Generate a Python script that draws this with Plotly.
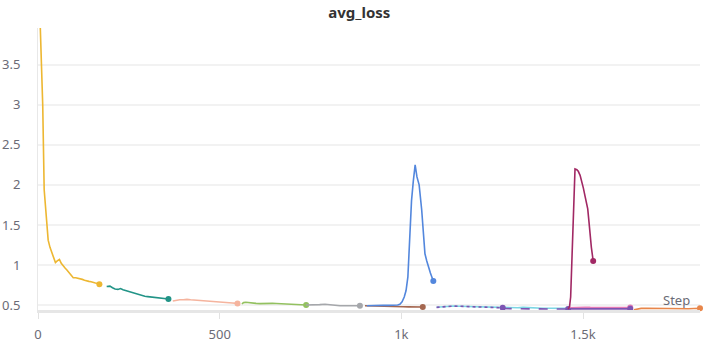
import plotly.graph_objects as go

# ---- data (step, avg_loss) per run ----
yellow_x = [4, 8, 13, 17, 21, 25, 28, 33, 38, 43, 48, 53, 59, 64, 70, 75, 79, 85, 91, 97, 104, 110, 116, 122, 128, 134, 140, 146, 152, 158, 164, 169]
yellow_y = [4.3, 3.6, 3.0, 1.94, 1.7, 1.45, 1.31, 1.22, 1.15, 1.09, 1.03, 1.05, 1.07, 1.02, 0.98, 0.96, 0.94, 0.91, 0.87, 0.84, 0.84, 0.835, 0.83, 0.82, 0.81, 0.80, 0.795, 0.79, 0.78, 0.775, 0.77, 0.76]

teal_x = [189, 198, 205, 212, 220, 227, 234, 241, 248, 255, 262, 270, 278, 286, 294, 302, 310, 318, 326, 334, 342, 350, 359]
teal_y = [0.73, 0.735, 0.715, 0.70, 0.695, 0.705, 0.69, 0.68, 0.67, 0.66, 0.65, 0.635, 0.625, 0.615, 0.61, 0.605, 0.60, 0.595, 0.59, 0.585, 0.58, 0.578, 0.575]

peach_x = [371, 380, 390, 400, 410, 420, 432, 445, 460, 475, 490, 505, 520, 535, 549]
peach_y = [0.55, 0.56, 0.565, 0.565, 0.57, 0.565, 0.56, 0.555, 0.55, 0.545, 0.535, 0.53, 0.525, 0.525, 0.52]

green_x = [561, 566, 572, 580, 590, 600, 611, 622, 634, 645, 656, 668, 680, 692, 703, 715, 727, 738]
green_y = [0.515, 0.53, 0.535, 0.528, 0.522, 0.52, 0.517, 0.52, 0.521, 0.52, 0.518, 0.515, 0.51, 0.507, 0.505, 0.503, 0.502, 0.5]

gray_x = [738, 750, 762, 775, 790, 803, 816, 831, 845, 858, 872, 886]
gray_y = [0.5, 0.5, 0.502, 0.505, 0.51, 0.503, 0.495, 0.49, 0.49, 0.49, 0.489, 0.49]

blue_x = [905, 920, 935, 950, 965, 980, 990, 996, 1002, 1008, 1013, 1018, 1022, 1025, 1028, 1033, 1038, 1043, 1049, 1056, 1061, 1065, 1070, 1074, 1080, 1088]
blue_y = [0.49, 0.495, 0.5, 0.497, 0.495, 0.495, 0.5, 0.51, 0.54, 0.6, 0.68, 0.85, 1.2, 1.55, 1.8, 2.05, 2.25, 2.1, 2.0, 1.69, 1.35, 1.14, 1.05, 0.98, 0.9, 0.80]

brown_x = [900, 915, 930, 945, 960, 975, 990, 1005, 1020, 1035, 1048, 1059]
brown_y = [0.49, 0.487, 0.488, 0.485, 0.483, 0.482, 0.48, 0.478, 0.477, 0.476, 0.477, 0.475]

cyan_x = [1097, 1110, 1125, 1143, 1160, 1180, 1200, 1220, 1240, 1260, 1279, 1300, 1320, 1335, 1350, 1370, 1390, 1410, 1430, 1445, 1459]
cyan_y = [0.471, 0.478, 0.485, 0.488, 0.485, 0.482, 0.478, 0.475, 0.472, 0.468, 0.466, 0.462, 0.465, 0.47, 0.465, 0.462, 0.46, 0.46, 0.46, 0.46, 0.458]

purple_dot_x = [1097, 1110, 1125, 1143, 1160, 1180, 1200, 1220, 1240, 1260, 1279]
purple_dot_y = [0.47, 0.477, 0.484, 0.487, 0.484, 0.481, 0.477, 0.474, 0.471, 0.467, 0.465]

purple_dash_x = [1279, 1300, 1320, 1340, 1360, 1380, 1400, 1420, 1440, 1459]
purple_dash_y = [0.456, 0.453, 0.452, 0.452, 0.451, 0.451, 0.45, 0.45, 0.45, 0.449]

purple_x = [1459, 1480, 1500, 1520, 1540, 1560, 1580, 1600, 1630]
purple_y = [0.452, 0.455, 0.453, 0.452, 0.452, 0.451, 0.452, 0.451, 0.452]

pink_x = [1459, 1475, 1490, 1505, 1520, 1540, 1560, 1580, 1600, 1615, 1630]
pink_y = [0.465, 0.47, 0.468, 0.472, 0.47, 0.468, 0.468, 0.466, 0.466, 0.467, 0.468]

magenta_x = [1459, 1463, 1466, 1470, 1473, 1476, 1478, 1483, 1487, 1492, 1496, 1501, 1506, 1510, 1513, 1516, 1519, 1523, 1528]
magenta_y = [0.45, 0.48, 0.6, 1.1, 1.45, 1.9, 2.2, 2.19, 2.17, 2.12, 2.06, 1.96, 1.85, 1.76, 1.7, 1.56, 1.4, 1.22, 1.05]

orange_x = [1640, 1650, 1660, 1675, 1690, 1710, 1730, 1750, 1770, 1790, 1805, 1822]
orange_y = [0.44, 0.45, 0.458, 0.46, 0.458, 0.456, 0.455, 0.456, 0.455, 0.454, 0.456, 0.458]

x_tickvals = [0, 500, 1000, 1500]
x_ticktext = ["0", "500", "1k", "1.5k"]
y_tickvals = [0.5, 1, 1.5, 2, 2.5, 3, 3.5]
y_ticktext = ["0.5", "1", "1.5", "2", "2.5", "3", "3.5"]

FONT = "'Source Sans Pro', 'Noto Sans', sans-serif"

fig = go.Figure()


def add_run(xs, ys, color, dash="solid", end_marker=True, width=1.6):
    fig.add_trace(go.Scatter(x=xs, y=ys, mode="lines",
                             line=dict(color=color, width=width, dash=dash),
                             showlegend=False, hoverinfo="skip", cliponaxis=True))
    if end_marker:
        fig.add_trace(go.Scatter(x=[xs[-1]], y=[ys[-1]], mode="markers",
                                 marker=dict(color=color, size=6),
                                 showlegend=False, hoverinfo="skip", cliponaxis=False))


add_run(yellow_x, yellow_y, "#EDB732")
add_run(teal_x, teal_y, "#229487")
add_run(peach_x, peach_y, "#F5B49E")
add_run(green_x, green_y, "#93C160")
add_run(gray_x, gray_y, "#A5A7AB")
add_run(brown_x, brown_y, "#A46750")
add_run(blue_x, blue_y, "#5387DD")
add_run(cyan_x, cyan_y, "#7CD6E4", end_marker=False)
add_run(purple_dot_x, purple_dot_y, "#7D54B2", dash="dot")
add_run(purple_dash_x, purple_dash_y, "#7D54B2", dash="dash")
add_run(pink_x, pink_y, "#E37BB6")
add_run(purple_x, purple_y, "#7D54B2")
add_run(magenta_x, magenta_y, "#A12864")
add_run(orange_x, orange_y, "#E8864A")

fig.update_layout(
    width=720, height=342,
    margin=dict(l=38, r=20, t=28, b=32, autoexpand=False),
    paper_bgcolor="white", plot_bgcolor="white",
    font=dict(family=FONT, size=13, color="#6b6b76"),
    title=dict(text="<b>avg_loss</b>", x=0.499, xanchor="center", y=0.962, yanchor="middle",
               font=dict(family=FONT, size=15, color="#333333")),
    xaxis=dict(range=[0, 1822], tickvals=x_tickvals, ticktext=x_ticktext,
               showgrid=False, zeroline=False, automargin=False,
               showline=True, linecolor="#e6e6e6", linewidth=3,
               ticks="outside", ticklen=6, tickcolor="#e2e2e2", tickwidth=1,
               ticklabelstandoff=4,
               tickfont=dict(size=13, color="#6b6b76")),
    yaxis=dict(range=[0.4375, 3.96], tickvals=y_tickvals, ticktext=y_ticktext,
               showgrid=True, gridcolor="#f2f2f2", gridwidth=2, zeroline=False,
               automargin=False,
               showline=True, linecolor="#e8e8e8", linewidth=1,
               ticks="", ticklabelstandoff=14,
               tickfont=dict(size=13, color="#6b6b76")),
    annotations=[dict(text="Step", xref="paper", yref="paper", x=0.988, y=0.035,
                      xanchor="right", yanchor="middle", showarrow=False,
                      font=dict(family=FONT, size=13, color="#6b6b76"))],
)

fig.write_html("out.html")
